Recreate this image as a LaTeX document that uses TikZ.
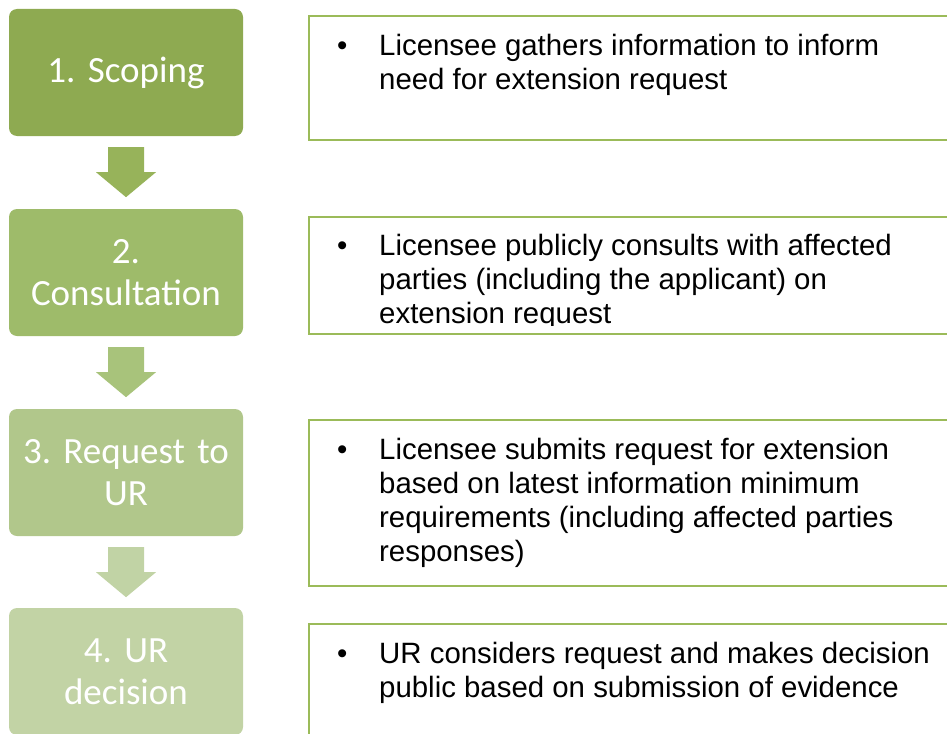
\documentclass[tikz,border=0pt]{standalone}
\usepackage{fontspec}
\setmainfont{Liberation Sans}
\newfontfamily\stepfont{Carlito}
\usetikzlibrary{positioning,calc}
\frenchspacing

\definecolor{stepA}{RGB}{142,170,81}
\definecolor{stepB}{RGB}{158,187,106}
\definecolor{stepC}{RGB}{177,199,139}
\definecolor{stepD}{RGB}{194,211,165}
\definecolor{arrA}{RGB}{151,179,90}
\definecolor{arrB}{RGB}{168,195,123}
\definecolor{arrC}{RGB}{193,211,165}
\definecolor{frame}{RGB}{155,187,89}

\tikzset{
  stepbox/.style={rounded corners=8pt, minimum width=234pt, minimum height=127pt,
    text width=226pt, align=center, text=white, inner sep=0pt,
    font=\stepfont\fontsize{37}{42}\selectfont},
  infobox/.style={draw=frame, line width=2pt, minimum width=660pt, anchor=north west},
  infotext/.style={align=left, inner sep=0pt, font=\fontsize{29.4}{34}\selectfont}
}

\begin{document}
\begin{tikzpicture}[x=1pt,y=-1pt]
\useasboundingbox (0,0) rectangle (947,733);
\clip (0,0) rectangle (947,733);

% steps on the left
\node[stepbox, fill=stepA] (scope) at (126,72.5) {1. Scoping};
\node[stepbox, fill=stepB] (consult) at (126,272.5) {2.\\Consultation};
\node[stepbox, fill=stepC] (request) at (126,472.5) {3. Request to\\UR};
\node[stepbox, fill=stepD] (decide) at (126,671.5) {4. UR\\decision};

% block arrows between the steps
\fill[arrA] ($(scope.south)+(-18,11)$) -- ++(36,0) -- ++(0,25) -- ++(12,0)
  -- ++(-30,25) -- ++(-30,-25) -- ++(12,0) -- cycle;
\fill[arrB] ($(consult.south)+(-18,11)$) -- ++(36,0) -- ++(0,25) -- ++(12,0)
  -- ++(-30,25) -- ++(-30,-25) -- ++(12,0) -- cycle;
\fill[arrC] ($(request.south)+(-18,11)$) -- ++(36,0) -- ++(0,25) -- ++(12,0)
  -- ++(-30,25) -- ++(-30,-25) -- ++(12,0) -- cycle;

% boxes on the right
\node[infobox, minimum height=124pt] (info1) at (308,15) {};
\node[infobox, minimum height=117pt] (info2) at (308,216) {};
\node[infobox, minimum height=166pt] (info3) at (308,419) {};
\node[infobox, minimum height=140pt] (info4) at (308,623) {};

% bullet texts
\node[infotext, below right=19pt and 29pt of info1.north west] (txt1)
  {\makebox[42pt][l]{\textbullet}Licensee gathers information to inform\\
   \hspace*{42pt}need for extension request};
\begin{scope}
\clip (info2.north west) rectangle ($(info2.south east)+(0,-10)$);
\node[infotext, below right=18pt and 29pt of info2.north west] (txt2)
  {\makebox[42pt][l]{\textbullet}Licensee publicly consults with affected\\
   \hspace*{42pt}parties (including the applicant) on\\
   \hspace*{42pt}extension request};
\end{scope}
\node[infotext, below right=19pt and 29pt of info3.north west] (txt3)
  {\makebox[42pt][l]{\textbullet}Licensee submits request for extension\\
   \hspace*{42pt}based on latest information minimum\\
   \hspace*{42pt}requirements (including affected parties\\
   \hspace*{42pt}responses)};
\node[infotext, below right=19pt and 29pt of info4.north west] (txt4)
  {\makebox[42pt][l]{\textbullet}UR considers request and makes decision\\
   \hspace*{42pt}public based on submission of evidence};

\end{tikzpicture}
\end{document}
